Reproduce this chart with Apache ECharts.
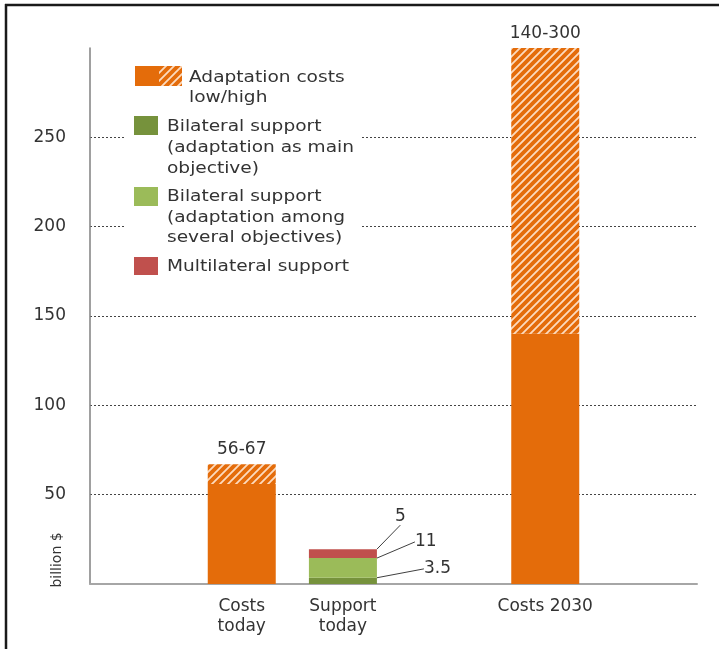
<!DOCTYPE html>
<html>
<head>
<meta charset="utf-8">
<script src="https://cdn.jsdelivr.net/npm/echarts@6/dist/echarts.min.js"></script>
<style>
html,body{margin:0;padding:0;background:#fff;overflow:hidden;}
#chart{width:719px;height:649px;}
</style>
</head>
<body>
<div id="chart"></div>
<script>
const categories = ['', 'Costs\ntoday', 'Support\ntoday', '', 'Costs 2030', ''];
const costLow = [null, 56, null, null, 140, null];
const costHigh = [null, 67, null, null, 300, null];
const bilateralMain = [null, null, 3.5, null, null, null];
const bilateralSeveral = [null, null, 11, null, null, null];
const multilateral = [null, null, 5, null, null, null];
const legendLabels = ['Adaptation costs\nlow/high', 'Bilateral support\n(adaptation as main\nobjective)', 'Bilateral support\n(adaptation among\nseveral objectives)', 'Multilateral support'];
const yAxisName = 'billion $';

const ORANGE = '#E46C0A', DKGREEN = '#76923C', LTGREEN = '#9BBB59', RED = '#C0504D';
const FONT = '"DejaVu Sans", sans-serif';
const TXT = '#333333';
const FS = 17;
const LEG_SX = 1.16;

function makeHatch() {
  const c = document.createElement('canvas');
  const s = 8;
  c.width = s; c.height = s;
  const ctx = c.getContext('2d');
  ctx.fillStyle = ORANGE;
  ctx.fillRect(0, 0, s, s);
  ctx.strokeStyle = 'rgba(253,225,200,0.95)';
  ctx.lineWidth = 1.8;
  ctx.beginPath();
  ctx.moveTo(-2, s + 2); ctx.lineTo(s + 2, -2);
  ctx.moveTo(-2, 2); ctx.lineTo(2, -2);
  ctx.moveTo(s - 2, s + 2); ctx.lineTo(s + 2, s - 2);
  ctx.stroke();
  return c;
}
const hatch = { image: makeHatch(), repeat: 'repeat' };

const highDiff = costHigh.map((v, i) => (v == null || costLow[i] == null) ? null : v - costLow[i]);

const chart = echarts.init(document.getElementById('chart'));

function supportLabel(dx, dy) {
  return {
    label: { show: true, position: 'right', distance: 5, color: TXT, fontFamily: FONT, fontSize: FS },
    labelLayout: { dx: dx, dy: dy },
    labelLine: { show: true, lineStyle: { color: '#404040', width: 1 } }
  };
}

function legText(i, x, y, lh) {
  return { type: 'text', z: 51, x: x, y: y, scaleX: LEG_SX,
    style: { text: legendLabels[i], fill: TXT, font: '16px ' + FONT, lineHeight: lh, verticalAlign: 'top' } };
}

const option = {
  animation: false,
  backgroundColor: '#fff',
  grid: { left: 90, right: 22, top: 48, bottom: 65, containLabel: false },
  xAxis: {
    type: 'category',
    data: categories,
    axisLine: { lineStyle: { color: '#A6A6A6', width: 2 } },
    axisTick: { show: false },
    axisLabel: { interval: 0, color: TXT, fontFamily: FONT, fontSize: FS, lineHeight: 20, margin: 13 }
  },
  yAxis: {
    type: 'value',
    min: 0, max: 300, interval: 50,
    axisLine: { show: true, lineStyle: { color: '#808080', width: 1.5 } },
    axisTick: { show: false },
    axisLabel: { showMinLabel: false, showMaxLabel: false, color: TXT, fontFamily: FONT, fontSize: FS, margin: 24 },
    splitLine: { show: true, showMinLine: false, showMaxLine: false, lineStyle: { color: '#444', type: [2, 2], width: 1 } }
  },
  series: [
    {
      name: 'Adaptation costs low', type: 'bar', stack: 'total', barWidth: 68,
      data: costLow, itemStyle: { color: ORANGE }
    },
    {
      name: 'Adaptation costs high', type: 'bar', stack: 'total', barWidth: 68,
      data: highDiff, itemStyle: { color: hatch },
      label: {
        show: true, position: 'top', distance: 6, color: TXT, fontFamily: FONT, fontSize: FS,
        formatter: p => costLow[p.dataIndex] + '-' + costHigh[p.dataIndex]
      }
    },
    Object.assign({
      name: 'Bilateral support (main)', type: 'bar', stack: 'total', barWidth: 68,
      data: bilateralMain, itemStyle: { color: DKGREEN }
    }, supportLabel(42, -12)),
    Object.assign({
      name: 'Bilateral support (several)', type: 'bar', stack: 'total', barWidth: 68,
      data: bilateralSeveral, itemStyle: { color: LTGREEN }
    }, supportLabel(33, -26)),
    Object.assign({
      name: 'Multilateral support', type: 'bar', stack: 'total', barWidth: 68,
      data: multilateral, itemStyle: { color: RED }
    }, supportLabel(13, -37))
  ],
  graphic: [
    { type: 'line', z: 100, shape: { x1: 6, y1: 4, x2: 6, y2: 649 }, style: { stroke: '#1a1a1a', lineWidth: 2.5 } },
    { type: 'line', z: 100, shape: { x1: 5, y1: 5, x2: 719, y2: 5 }, style: { stroke: '#1a1a1a', lineWidth: 2.5 } },
    {
      type: 'text', z: 100, x: 57, y: 560, rotation: Math.PI / 2,
      style: { text: yAxisName, fill: TXT, font: '14px ' + FONT, align: 'center', verticalAlign: 'middle' }
    },
    {
      type: 'group', z: 50, children: [
        { type: 'rect', z: 50, shape: { x: 124, y: 56, width: 237, height: 228 }, style: { fill: '#fff' } },
        { type: 'rect', z: 51, shape: { x: 135, y: 66, width: 24, height: 20 }, style: { fill: ORANGE } },
        { type: 'rect', z: 51, shape: { x: 159, y: 66, width: 23, height: 20 }, style: { fill: hatch } },
        legText(0, 189, 68, 20),
        { type: 'rect', z: 51, shape: { x: 134, y: 116, width: 24, height: 19 }, style: { fill: DKGREEN } },
        legText(1, 167, 116, 21),
        { type: 'rect', z: 51, shape: { x: 134, y: 187, width: 24, height: 19 }, style: { fill: LTGREEN } },
        legText(2, 167, 187, 20.5),
        { type: 'rect', z: 51, shape: { x: 134, y: 257, width: 24, height: 18 }, style: { fill: RED } },
        legText(3, 167, 257, 20)
      ]
    }
  ]
};
chart.setOption(option);
</script>
</body>
</html>
